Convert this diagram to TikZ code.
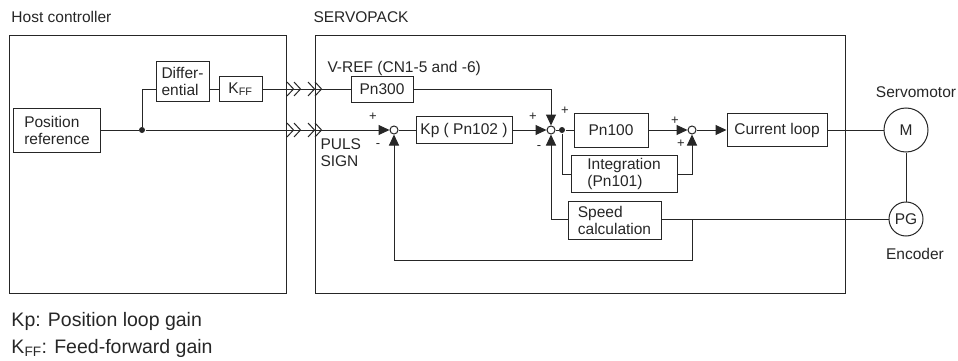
\documentclass[tikz,border=0pt]{standalone}
\usepackage{fontspec}
\setmainfont{Liberation Sans}
\usetikzlibrary{arrows.meta}
\begin{document}
\begin{tikzpicture}[x=1pt, y=-1pt, line width=1pt, color=black!85,
    every node/.style={font=\fontsize{15.5}{17}\selectfont, inner sep=0pt},
    blk/.style={draw, align=left},
    sum/.style={draw, circle, minimum size=8pt},
    dot/.style={fill, circle, minimum size=6pt},
    sgn/.style={font=\fontsize{13}{13}\selectfont},
    arr/.style={-{Triangle[length=11pt,width=10pt]}},
    chev/.pic={\draw (0,-7) -- (6.5,0) -- (0,7) (7,-7) -- (13.5,0) -- (7,7);}]
    \useasboundingbox (0,0) rectangle (958,361);
    \node[anchor=west] (hostlbl) at (11,17) {Host controller};
    \node[anchor=west] (servolbl) at (313,17) {SERVOPACK};
    \draw (9,36) rectangle (286,293);
    \draw (315,36) rectangle (845,293);
    \node[blk, minimum width=87pt, minimum height=44pt] (posref) at (57,130) {Position\\reference};
    \node[blk, minimum width=53pt, minimum height=39pt] (diff) at (182.5,81.5) {Differ-\\ential};
    \node[blk, minimum width=43pt, minimum height=25pt] (kff) at (240.5,89) {K\textsubscript{FF}};
    \node[blk, minimum width=62pt, minimum height=26pt] (pn300) at (382,89) {Pn300};
    \node[blk, minimum width=96pt, minimum height=27pt] (kp) at (464,130) {Kp ( Pn102 )};
    \node[blk, minimum width=74pt, minimum height=34pt] (pn100) at (611,130) {Pn100};
    \node[blk, minimum width=106pt, minimum height=37pt] (integ) at (624,174) {Integration\\(Pn101)};
    \node[blk, minimum width=93pt, minimum height=38pt] (speed) at (614.5,220) {Speed\\calculation};
    \node[blk, minimum width=100pt, minimum height=33pt] (curr) at (777,130) {Current loop};
    \node[draw, circle, minimum size=44pt] (motor) at (906,130) {M};
    \node[draw, circle, minimum size=34pt] (pg) at (906,219) {PG};
    \node[sum] (s1) at (394,130) {};
    \node[sum] (s2) at (551,130) {};
    \node[sum] (s3) at (692,130) {};
    \node[dot] (jn) at (142,130) {};
    \node[dot] (jd) at (562,130) {};
    \coordinate (fb) at (692,219);
    \coordinate (fbb) at (692,260);
    \foreach \y in {89,130} {
        \pic at (287,\y) {chev};
        \pic at (308,\y) {chev};
    }
    \draw (posref) -- (jn);
    \draw[arr] (jn) -- (s1);
    \draw (jn) |- (diff.west |- kff.west);
    \draw (diff.east |- kff.west) -- (kff);
    \draw (kff) -- (pn300);
    \draw[arr] (pn300) -| (s2);
    \draw (s1) -- (kp);
    \draw[arr] (kp) -- (s2);
    \draw (s2) -- (jd) -- (pn100);
    \draw (jd) |- (integ);
    \draw[arr] (integ) -| (s3);
    \draw[arr] (pn100) -- (s3);
    \draw[arr] (s3) -- (curr);
    \draw (curr) -- (motor);
    \draw (motor) -- (pg);
    \draw (pg) -- (speed.east |- pg);
    \draw[arr] (speed.west |- pg) -| (s2);
    \draw[arr] (fb) -- (fbb) -| (s1);
    \node[sgn] (p1) at (373,117) {+};
    \node[sgn] (m1) at (378,146) {-};
    \node[sgn] (p2) at (533,117) {+};
    \node[sgn] (m2) at (539,148) {-};
    \node[sgn] (p3) at (565,111) {+};
    \node[sgn] (p4) at (675,121) {+};
    \node[sgn] (p5) at (681,144) {+};
    \node[anchor=west] (vref) at (327,68) {V-REF (CN1-5 and -6)};
    \node[anchor=west, align=left] (puls) at (320,153) {PULS\\SIGN};
    \node (motorlbl) at (916,92) {Servomotor};
    \node (enclbl) at (915,254) {Encoder};
    \node[anchor=west, font=\fontsize{19.5}{21}\selectfont] (note1) at (11,321) {Kp: Position loop gain};
    \node[anchor=west, font=\fontsize{19.5}{21}\selectfont] (note2) at (11,348) {K\textsubscript{FF}: Feed-forward gain};
\end{tikzpicture}
\end{document}
